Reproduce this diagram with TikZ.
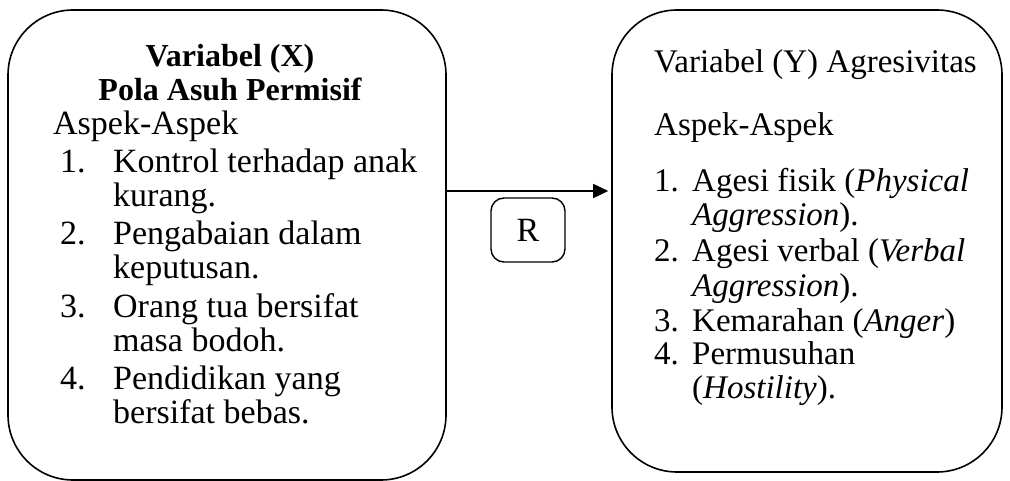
\documentclass[tikz,border=0pt]{standalone}
\usepackage{fontspec}
\setmainfont{Liberation Serif}
\usetikzlibrary{arrows.meta}
\tikzset{
  bigbox/.style={draw, line width=1.6pt, rounded corners=65pt, inner sep=0pt},
  smallbox/.style={draw, line width=1.4pt, rounded corners=13pt, inner sep=0pt, font=\fontsize{34}{38}\selectfont},
  ltxt/.style={anchor=base west, inner sep=0pt, font=\fontsize{34}{38}\selectfont},
  rtxt/.style={anchor=base west, inner sep=0pt, font=\fontsize{33}{38}\selectfont},
  ttl/.style={anchor=base, inner sep=0pt, font=\fontsize{32}{36}\selectfont\bfseries},
  arr/.style={line width=1.6pt, -{Triangle[length=15pt,width=14pt]}, shorten >=3pt}
}
\begin{document}
\begin{tikzpicture}[x=1pt,y=-1pt]
\useasboundingbox (0,0) rectangle (1010,481);
% boxes
\node[bigbox, minimum width=438pt, minimum height=470pt] (lbox) at (227,245) {};
\node[bigbox, minimum width=390pt, minimum height=462pt] (rbox) at (807,241) {};
\node[smallbox, minimum width=74pt, minimum height=64pt] (rr) at (528,230) {R};
\coordinate (ay) at (0,191);
\draw[arr] (lbox.east |- ay) -- (rbox.west |- ay);
% left text
\node[ttl] (lt1) at (230,67) {Variabel (X)};
\node[ttl] (lt2) at (230,101) {Pola Asuh Permisif};
\node[ltxt] (la) at (53,135) {Aspek-Aspek};
\node[ltxt] (ln1) at (60,173) {1.};
\node[ltxt] (l1a) at (113,173) {Kontrol terhadap anak};
\node[ltxt] (l1b) at (113,207) {kurang.};
\node[ltxt] (ln2) at (60,245) {2.};
\node[ltxt] (l2a) at (113,245) {Pengabaian dalam};
\node[ltxt] (l2b) at (113,279) {keputusan.};
\node[ltxt] (ln3) at (60,317) {3.};
\node[ltxt] (l3a) at (113,317) {Orang tua bersifat};
\node[ltxt] (l3b) at (113,351) {masa bodoh.};
\node[ltxt] (ln4) at (60,389) {4.};
\node[ltxt] (l4a) at (113,389) {Pendidikan yang};
\node[ltxt] (l4b) at (113,423) {bersifat bebas.};
% right text
\node[rtxt] (rt) at (654,73) {Variabel (Y) Agresivitas};
\node[rtxt] (ra) at (654,136) {Aspek-Aspek};
\node[rtxt] (rn1) at (654,192) {1.};
\node[rtxt] (r1a) at (692,192) {Agesi fisik (\textit{Physical}};
\node[rtxt] (r1b) at (692,226) {\textit{Aggression}).};
\node[rtxt] (rn2) at (654,262) {2.};
\node[rtxt] (r2a) at (692,262) {Agesi verbal (\textit{Verbal}};
\node[rtxt] (r2b) at (692,297) {\textit{Aggression}).};
\node[rtxt] (rn3) at (654,331) {3.};
\node[rtxt] (r3a) at (692,331) {Kemarahan (\textit{Anger})};
\node[rtxt] (rn4) at (654,364) {4.};
\node[rtxt] (r4a) at (692,364) {Permusuhan};
\node[rtxt] (r4b) at (692,398) {(\textit{Hostility}).};
\end{tikzpicture}
\end{document}
